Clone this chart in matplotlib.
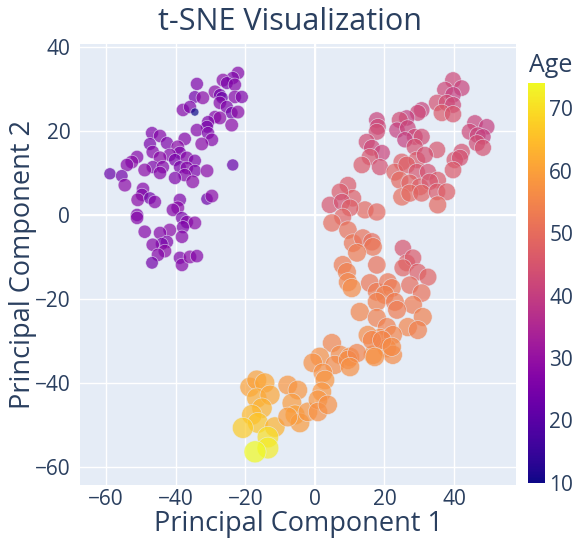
import numpy as np
import matplotlib
matplotlib.use("Agg")
import matplotlib.pyplot as plt

# t-SNE embedding coordinates and the age of each sample
# purple group (young)
pc1_young = [-22.1, -23.6, -26.4, -25.3, -23.0, -33.9, -28.7, -27.3, -26.7, -23.0,
             -21.0, -34.5, -32.2, -27.3, -25.3, -37.9, -35.9, -34.5, -23.9, -22.1,
             -28.7, -27.3, -30.7, -31.0, -23.9, -33.9, -30.7, -29.6, -32.5, -37.4,
             -46.8, -44.5, -47.4, -42.5, -46.6, -39.4, -38.8, -41.7, -44.5, -40.2,
             -36.8, -34.5, -51.1, -52.6, -54.0, -46.6, -43.7, -48.9, -44.5, -38.8,
             -36.8, -34.5, -31.0, -37.4, -40.2, -35.1, -23.6, -58.9, -55.5, -54.6,
             -49.4, -49.7, -50.9, -47.4, -46.0, -38.8, -39.4, -31.0, -29.6, -51.1,
             -51.1, -40.8, -38.2, -36.8, -34.5, -37.9, -41.7, -44.5, -48.9, -38.2,
             -42.5, -44.0, -46.6, -43.1, -45.1, -38.8, -38.2, -35.9, -33.9, -46.8]
pc2_young = [33.8, 32.6, 32.1, 31.4, 31.0, 31.2, 29.3, 28.6, 27.9, 28.1,
             28.1, 28.1, 27.9, 26.7, 25.7, 25.0, 25.7, 24.5, 24.3, 24.5,
             23.3, 23.1, 22.1, 21.0, 21.4, 20.2, 19.5, 17.9, 16.9, 18.1,
             19.5, 18.8, 16.9, 17.1, 15.0, 16.2, 14.8, 14.3, 13.6, 13.1,
             13.6, 12.9, 13.8, 12.6, 11.9, 11.4, 11.4, 10.7, 10.0, 11.4,
             11.2, 10.5, 10.5, 9.5, 8.8, 7.9, 11.9, 9.8, 9.3, 7.1,
             6.2, 4.8, 3.6, 4.0, 3.1, 3.6, 1.7, 3.8, 4.5, 0.0,
             -0.7, 1.2, -0.7, -1.7, -1.9, -2.9, -3.6, -4.3, -4.0, -5.2,
             -6.4, -6.9, -7.1, -8.6, -9.5, -10.2, -11.9, -10.0, -9.8, -11.4]
age_young = [27, 26, 28, 25, 27, 26, 28, 24, 23, 27,
             26, 24, 28, 27, 26, 27, 26, 10, 24, 28,
             27, 28, 26, 25, 28, 27, 26, 27, 28, 27,
             26, 27, 25, 26, 27, 28, 26, 27, 28, 25,
             27, 26, 27, 28, 27, 26, 27, 28, 27, 25,
             27, 26, 28, 27, 26, 28, 22, 22, 24, 28,
             27, 26, 28, 24, 27, 26, 28, 23, 28, 26,
             27, 27, 25, 27, 28, 26, 28, 27, 27, 27,
             26, 25, 27, 28, 27, 26, 27, 28, 27, 24]

# pink / coral group (middle age)
pc1_mid = [39.7, 42.2, 37.4, 39.7, 35.1, 37.9, 39.7, 36.5, 39.7, 30.7,
           29.6, 26.4, 24.4, 17.8, 18.1, 17.8, 23.6, 26.7, 28.7, 30.7,
           25.9, 28.7, 14.9, 16.4, 19.3, 15.8, 13.5, 18.7, 35.1, 42.2,
           46.0, 49.4, 44.5, 46.8, 48.3, 46.6, 48.3, 40.2, 41.7, 39.7,
           25.0, 29.3, 31.6, 23.0, 26.4, 29.3, 32.5, 35.3, 24.4, 27.3,
           30.2, 33.0, 25.0, 27.3, 30.7, 35.1, 37.9, 35.3,
           9.5, 10.9, 7.2, 14.4, 17.8, 4.3, 7.8, 10.1, 8.0, 4.9,
           9.5, 10.9, 13.8, 16.4, 16.7, 12.1, 25.3, 26.4, 28.2, 25.3,
           29.6, 32.5, 17.8, 8.0, 9.2, 9.5, 10.6, 15.8, 17.8, 21.0,
           22.1, 20.1, 17.8, 23.0, 27.3, 30.7, 28.2]
pc2_mid = [32.1, 30.2, 29.8, 28.6, 26.7, 26.7, 26.2, 24.3, 24.0, 25.0,
           24.3, 23.1, 22.6, 22.6, 21.0, 19.8, 20.2, 20.7, 18.6, 18.6,
           17.9, 16.2, 17.4, 16.0, 14.8, 13.8, 11.9, 11.4, 15.5, 15.0,
           21.9, 21.0, 19.8, 19.0, 18.6, 17.1, 16.0, 13.1, 13.6, 10.7,
           12.6, 13.1, 14.3, 10.2, 11.9, 10.2, 10.2, 8.3, 8.3, 7.6,
           6.7, 7.9, 4.3, 5.2, 5.2, 5.5, 5.5, 2.4,
           7.1, 4.0, 5.5, 1.2, 0.7, 2.4, 3.1, 1.7, -0.5, -1.9,
           -3.6, -6.7, -5.5, -6.4, -7.6, -9.0, -7.9, -11.4, -10.2, -12.6,
           -13.6, -14.8, -11.9, -11.9, -13.6, -16.0, -17.4, -16.2, -18.3, -16.0,
           -17.4, -19.0, -20.7, -20.7, -16.7, -18.6, -21.4]
age_mid = [42, 41, 42, 40, 44, 43, 42, 46, 45, 41,
           42, 40, 43, 41, 42, 43, 40, 41, 42, 43,
           40, 44, 43, 42, 41, 45, 46, 44, 45, 44,
           41, 40, 42, 41, 40, 43, 44, 45, 44, 46,
           47, 46, 44, 48, 47, 45, 44, 46, 49, 48,
           47, 45, 50, 49, 48, 46, 47, 49,
           46, 47, 46, 49, 49, 45, 44, 47, 48, 50,
           51, 52, 51, 50, 52, 53, 45, 47, 46, 48,
           47, 48, 51, 53, 54, 55, 56, 52, 53, 52,
           53, 54, 54, 53, 50, 51, 53]

# orange / yellow group (older)
pc1_old = [12.9, 17.8, 23.6, 31.0, 26.7, 29.6, 20.7, 18.7, 22.4, 15.2,
           20.7, 22.4, 16.7, 4.9, 1.4, 7.2, 10.1, -0.6, 5.7, 2.3,
           2.9, 2.0, 9.5, 12.1, 10.1, 16.4, 19.3, 22.1, 17.2,
           -18.7, -16.7, -14.4, -16.7, -12.9, -15.2, -18.1, -16.4, -20.7, -11.5,
           -13.5, -13.5, -17.2, -7.8, -4.9, -6.6, -5.7, -4.3, -2.0, 0.9,
           0.9, 3.7, -7.8]
pc2_old = [-23.1, -24.5, -22.6, -24.3, -26.7, -27.4, -26.7, -29.3, -28.6, -28.6,
           -31.7, -33.3, -33.3, -30.5, -33.8, -33.3, -33.8, -35.2, -35.7, -37.6,
           -39.3, -42.1, -34.5, -32.9, -36.2, -29.8, -29.8, -31.4, -33.8,
           -41.0, -39.3, -40.0, -43.6, -42.9, -46.0, -47.6, -49.5, -50.7, -50.5,
           -52.9, -55.5, -56.4, -40.5, -41.7, -44.8, -47.6, -49.5, -46.9, -44.0,
           -46.9, -45.2, -48.1]
age_old = [55, 54, 53, 54, 55, 54, 54, 56, 55, 56,
           57, 56, 57, 55, 57, 56, 57, 57, 56, 57,
           58, 58, 56, 55, 57, 55, 55, 56, 57,
           60, 60, 61, 62, 61, 63, 64, 66, 67, 63,
           70, 72, 74, 58, 58, 59, 60, 59, 58, 58,
           57, 57, 59]

pc1 = np.array(pc1_young + pc1_mid + pc1_old)
pc2 = np.array(pc2_young + pc2_mid + pc2_old)
age = np.array(age_young + age_mid + age_old)

text_color = "#2a3f5f"
plt.rcParams["font.family"] = ["Open Sans", "DejaVu Sans"]

fig = plt.figure(figsize=(5.81, 5.40), dpi=100)
ax = fig.add_axes([80 / 581, 1 - 485 / 540, 436 / 581, 441 / 540])
ax.set_facecolor("#E5ECF6")
for s in ax.spines.values():
    s.set_visible(False)

sc = ax.scatter(pc1, pc2, c=age, s=age * 3.4, cmap="plasma",
                vmin=age.min(), vmax=age.max(), alpha=0.7,
                edgecolors="#E5ECF6", linewidths=0.5, zorder=3)

ax.set_xlim(-67.5, 57.8)
ax.set_ylim(-64.3, 40.7)
ax.set_xticks([-60, -40, -20, 0, 20, 40])
ax.set_yticks([-60, -40, -20, 0, 20, 40])
ax.grid(True, color="white", linewidth=1, zorder=0)
ax.axvline(0, color="white", linewidth=1.5, zorder=1)
ax.axhline(0, color="white", linewidth=1.5, zorder=1)
ax.set_axisbelow(True)
ax.tick_params(length=0, labelsize=15, labelcolor=text_color)
ax.tick_params(axis="x", pad=3)
ax.tick_params(axis="y", pad=7)

ax.set_xlabel("Principal Component 1", fontsize=19.5, color=text_color)
ax.set_ylabel("Principal Component 2", fontsize=19.5, color=text_color)
# place axis titles where the reference has them
ax.yaxis.set_label_coords((23 - 80) / 436, 0.5)
ax.xaxis.set_label_coords(0.5, (485 - 524) / 441)
ax.yaxis.label.set_va("center")
ax.xaxis.label.set_va("center")
fig.text(290 / 581, 1 - 22 / 540, "t-SNE Visualization", fontsize=22,
         color=text_color, ha="center", va="center")

cax = fig.add_axes([528 / 581, 1 - 483 / 540, 17 / 581, 400 / 540])
cb = fig.colorbar(sc, cax=cax)
cb.solids.set_alpha(1)
cb.outline.set_visible(False)
cb.set_ticks([10, 20, 30, 40, 50, 60, 70])
cax.tick_params(length=0, labelsize=15, labelcolor=text_color, pad=3)
fig.text(529 / 581, 1 - 65 / 540, "Age", fontsize=18, color=text_color,
         ha="left", va="center")

fig.savefig("out.png", dpi=100)
